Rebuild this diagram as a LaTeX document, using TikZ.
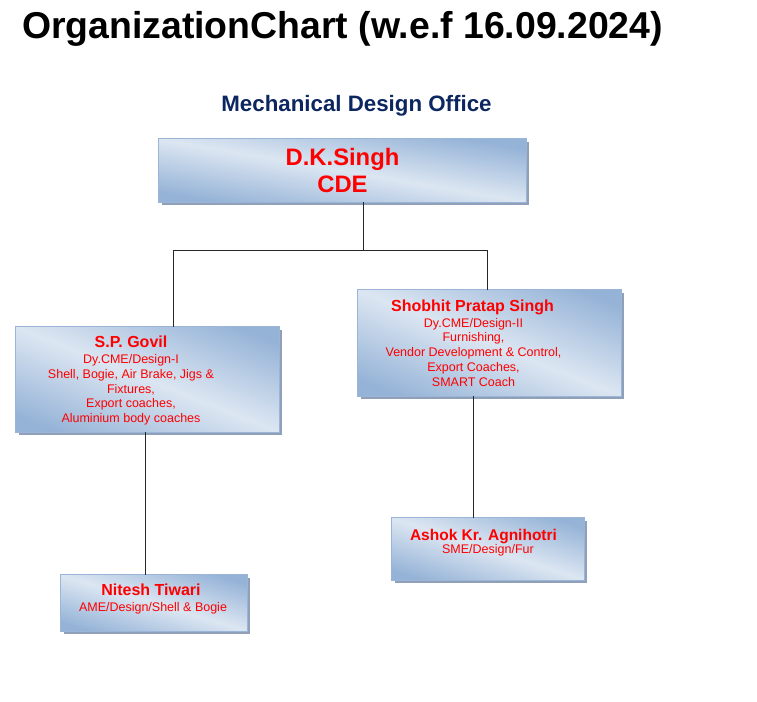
\documentclass[tikz,border=0pt]{standalone}
\usepackage{fontspec}
\setmainfont{Liberation Sans}
\usetikzlibrary{shadows}

\definecolor{cardlight}{HTML}{DCE6F2}
\definecolor{cardblue}{HTML}{95B3D7}
\definecolor{cardedge}{HTML}{9AB5D6}
\definecolor{cardshadow}{HTML}{8FA0B8}
\definecolor{officeblue}{HTML}{0C2660}
\pgfdeclarehorizontalshading{cardshade}{100bp}{color(0bp)=(cardblue); color(20bp)=(cardblue); color(50bp)=(cardlight); color(80bp)=(cardblue); color(100bp)=(cardblue)}

\begin{document}
\begin{tikzpicture}[x=1pt, y=-1pt,
    card/.style={fill=cardblue, inner sep=0pt,
      drop shadow={shadow xshift=3pt, shadow yshift=-3pt, fill=cardshadow, opacity=1}},
    who/.style={text=red, font=\fontsize{16}{19}\selectfont\bfseries, inner sep=0pt, anchor=base},
    post/.style={text=red, font=\fontsize{12.5}{14.7}\selectfont, align=center, inner sep=0pt, anchor=base},
    link/.style={draw=black!85, line width=0.9pt}]
  \useasboundingbox (0,0) rectangle (757,701);

  \node[anchor=base, inner sep=0pt, font=\fontsize{37.4}{40}\selectfont\bfseries] (title) at (342.5,38.5) {OrganizationChart (w.e.f 16.09.2024)};
  \node[anchor=base, inner sep=0pt, text=officeblue, font=\fontsize{22.3}{24}\selectfont\bfseries] (office) at (356.5,111.5) {Mechanical Design Office};

  % boxes
  \foreach \id/\cx/\cy/\w/\h in {dk/342.5/170.5/367/63, govil/147.5/379.5/263/105, shobhit/489.5/343/263/106,
      nitesh/154/603/186/56, ashok/488/549/192/62} {
    \node[card, minimum width=\w, minimum height=\h] (\id) at (\cx,\cy) {};
    \begin{scope}[transform canvas={shift={(\id.center)}, xscale=\w/100, yscale=\h/100}]
      \shade[shading=cardshade, shading angle=45] (-50pt,-50pt) rectangle (50pt,50pt);
    \end{scope}
    \draw[cardedge, line width=0.8pt] (\id.south west) rectangle (\id.north east);
  }

  % texts
  \node[who, font=\fontsize{23.8}{27}\selectfont\bfseries] (dkname) at (342.5,165.7) {D.K.Singh};
  \node[who, font=\fontsize{23.8}{27}\selectfont\bfseries] (dkpost) at (342.5,192.7) {CDE};
  \node[who] (govilname) at (131,347.7) {S.P. Govil};
  \node[post] (govilpost) at (131,422.5) {Dy.CME/Design-I\\Shell, Bogie, Air Brake, Jigs \&\\Fixtures,\\Export coaches,\\Aluminium body coaches};
  \node[who] (shobhitname) at (472.5,311) {Shobhit Pratap Singh};
  \node[post] (shobhitpost) at (473.5,386) {Dy.CME/Design-II\\Furnishing,\\Vendor Development \& Control,\\Export Coaches,\\SMART Coach};
  \node[who] (niteshname) at (151,595.7) {Nitesh Tiwari};
  \node[post] (niteshpost) at (153,611.7) {AME/Design/Shell \& Bogie};
  \node[who, font=\fontsize{15.5}{19}\selectfont\bfseries] (ashokname) at (483.5,540) {Ashok Kr. Agnihotri};
  \node[post] (ashokpost) at (488,553.3) {SME/Design/Fur};

  % connectors
  \coordinate (hub) at (363,250);
  \coordinate (hubleft) at (173,250);
  \coordinate (hubright) at (487,250);
  \draw[link] (dk.south -| hub) -- (hub);
  \draw[link] (govil.north -| hubleft) -- (hubleft) -- (hubright) -- (shobhit.north -| hubright);
  \draw[link] ([xshift=-2.5]govil.south) -- ([xshift=-2.5]govil.south |- nitesh.north);
  \draw[link] ([xshift=-16.5]shobhit.south) -- ([xshift=-16.5]shobhit.south |- ashok.north);
\end{tikzpicture}
\end{document}
